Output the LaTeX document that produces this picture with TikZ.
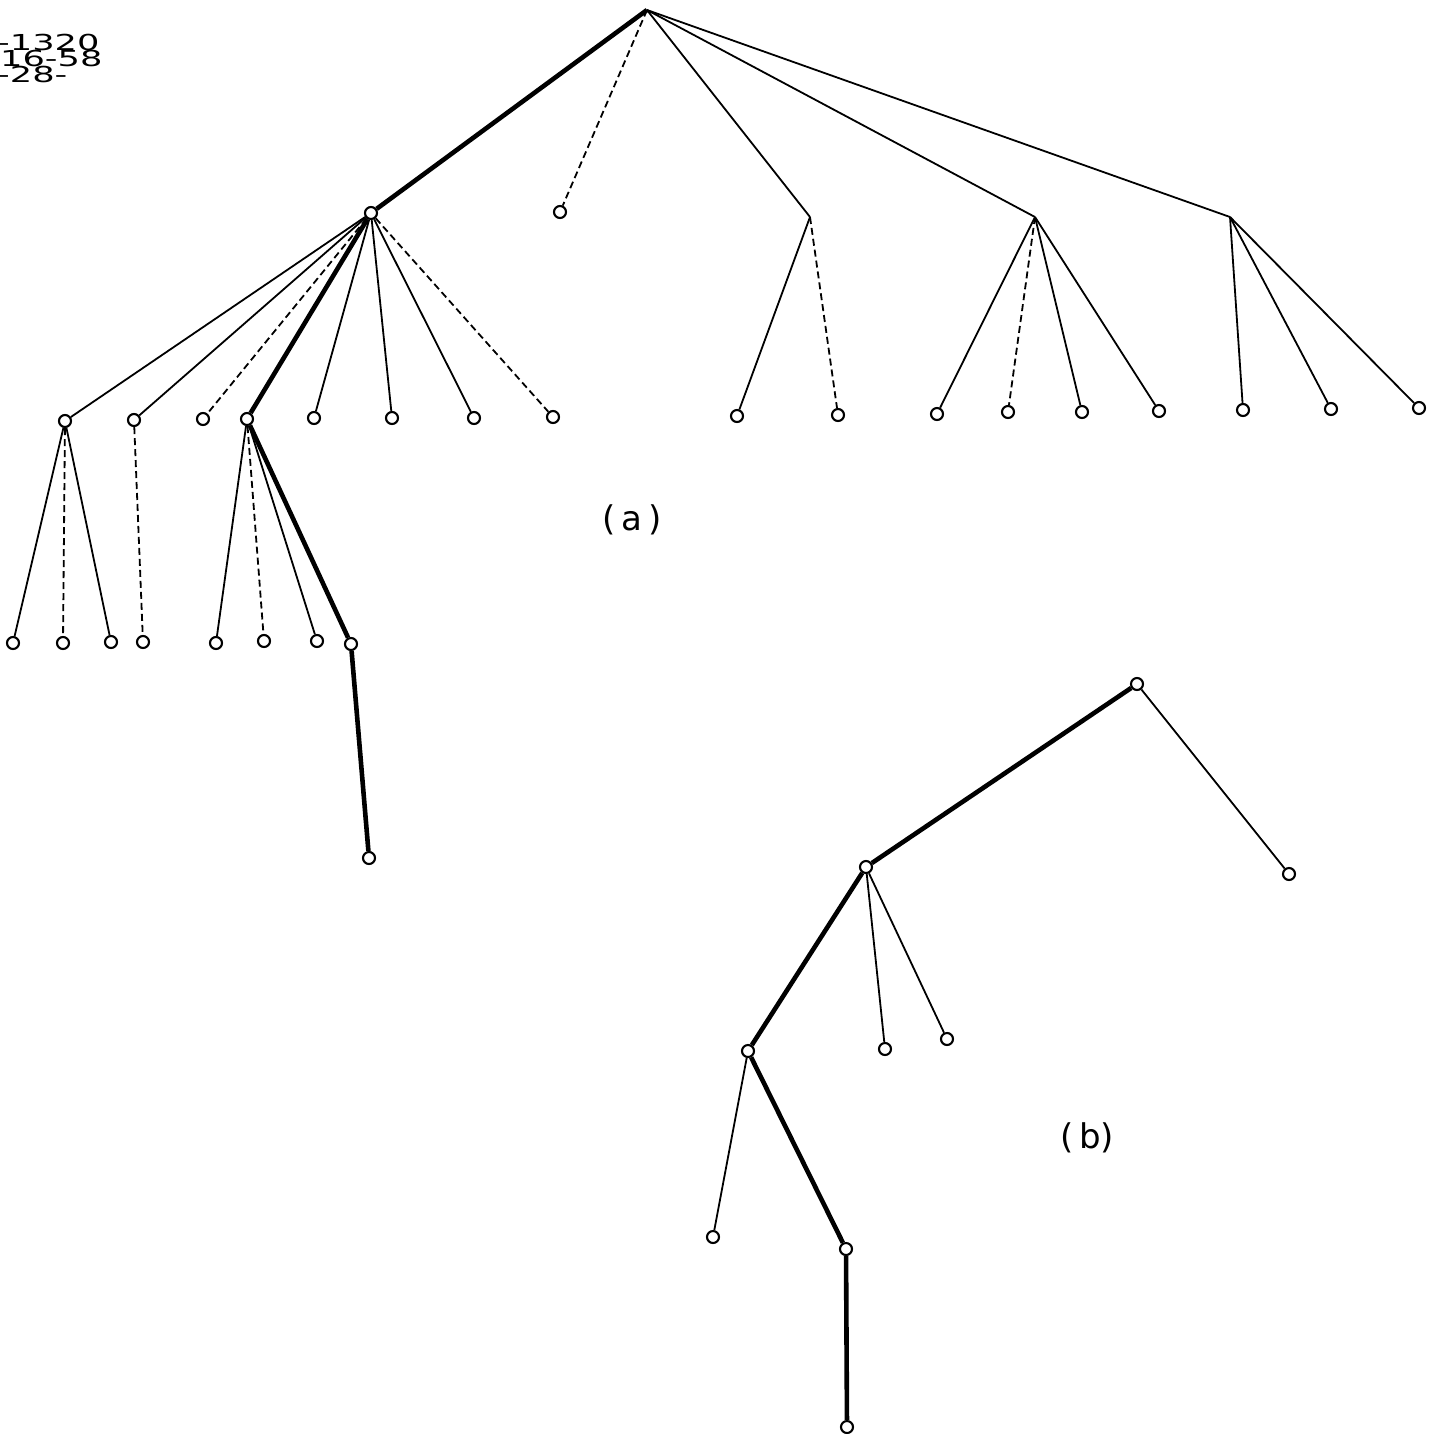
\documentclass[tikz,border=0pt]{standalone}
\usepackage{fontspec}
\usepackage{graphicx}
\setmainfont{DejaVu Sans}
\begin{document}
\begin{tikzpicture}[x=1pt,y=-1pt,
  leaf/.style={circle,draw,line width=2.1pt,fill=white,inner sep=0pt,minimum size=12pt},
  thin/.style={line width=1.8pt},
  thick/.style={line width=4.6pt},
  dsh/.style={line width=1.8pt,dash pattern=on 7pt off 4pt},
  hdr/.style={anchor=west,inner sep=0pt,font=\fontsize{22}{22}\selectfont},
  lab/.style={font=\fontsize{34}{36}\selectfont}]
\useasboundingbox (0,0) rectangle (1437,1433);
\node[hdr] (h1) at (-3,42) {\scalebox{1.6}[1]{-1320}};
\node[hdr] (h2) at (0,58) {\scalebox{1.6}[1]{16-58}};
\node[hdr] (h3) at (-3,74) {\scalebox{1.6}[1]{-28-}};
% tree (a)
\coordinate (R) at (647,10);
\node[leaf] (A) at (371,213) {};
\node[leaf] (B) at (560,212) {};
\coordinate (C) at (810,217);
\coordinate (D) at (1035,217);
\coordinate (E) at (1230,217);
\node[leaf] (a1) at (65,421) {};
\node[leaf] (a2) at (134,420) {};
\node[leaf] (a3) at (203,419) {};
\node[leaf] (a4) at (247,419) {};
\node[leaf] (a5) at (314,418) {};
\node[leaf] (a6) at (392,418) {};
\node[leaf] (a7) at (474,418) {};
\node[leaf] (a8) at (553,417) {};
\node[leaf] (c1) at (737,416) {};
\node[leaf] (c2) at (838,415) {};
\node[leaf] (d1) at (937,414) {};
\node[leaf] (d2) at (1008,412) {};
\node[leaf] (d3) at (1082,412) {};
\node[leaf] (d4) at (1159,411) {};
\node[leaf] (e1) at (1243,410) {};
\node[leaf] (e2) at (1331,409) {};
\node[leaf] (e3) at (1419,408) {};
\node[leaf] (f1) at (13,643) {};
\node[leaf] (f2) at (63,643) {};
\node[leaf] (f3) at (111,642) {};
\node[leaf] (g1) at (143,642) {};
\node[leaf] (k1h) at (216,643) {};
\node[leaf] (k2h) at (264,641) {};
\node[leaf] (k3h) at (317,641) {};
\node[leaf] (k4h) at (351,644) {};
\node[leaf] (k1) at (369,858) {};
\draw[thick] (R) -- (A);
\draw[dsh] (R) -- (B);
\draw[thin] (R) -- (C);
\draw[thin] (R) -- (D);
\draw[thin] (R) -- (E);
\draw[thin] (A) -- (a1);
\draw[thin] (A) -- (a2);
\draw[dsh] (A) -- (a3);
\draw[thick] (A) -- (a4);
\draw[thin] (A) -- (a5);
\draw[thin] (A) -- (a6);
\draw[thin] (A) -- (a7);
\draw[dsh] (A) -- (a8);
\draw[thin] (C) -- (c1);
\draw[dsh] (C) -- (c2);
\draw[thin] (D) -- (d1);
\draw[dsh] (D) -- (d2);
\draw[thin] (D) -- (d3);
\draw[thin] (D) -- (d4);
\draw[thin] (E) -- (e1);
\draw[thin] (E) -- (e2);
\draw[thin] (E) -- (e3);
\draw[thin] (a1) -- (f1);
\draw[dsh] (a1) -- (f2);
\draw[thin] (a1) -- (f3);
\draw[dsh] (a2) -- (g1);
\draw[thin] (a4) -- (k1h);
\draw[dsh] (a4) -- (k2h);
\draw[thin] (a4) -- (k3h);
\draw[thick] (a4) -- (k4h);
\draw[thick] (k4h) -- (k1);
\node[lab] (la) at (632,520) {(\,a\,)};
% tree (b)
\node[leaf] (P) at (1137,684) {};
\node[leaf] (Q) at (866,867) {};
\node[leaf] (P2) at (1289,874) {};
\node[leaf] (Q1) at (885,1049) {};
\node[leaf] (Q2) at (947,1039) {};
\node[leaf] (S) at (748,1051) {};
\node[leaf] (S1) at (713,1237) {};
\node[leaf] (T) at (846,1249) {};
\node[leaf] (T1) at (847,1427) {};
\draw[thick] (P) -- (Q);
\draw[thin] (P) -- (P2);
\draw[thin] (Q) -- (Q1);
\draw[thin] (Q) -- (Q2);
\draw[thick] (Q) -- (S);
\draw[thin] (S) -- (S1);
\draw[thick] (S) -- (T);
\draw[thick] (T) -- (T1);
\node[lab] (lb) at (1087,1138) {(\,b)};
\end{tikzpicture}
\end{document}
